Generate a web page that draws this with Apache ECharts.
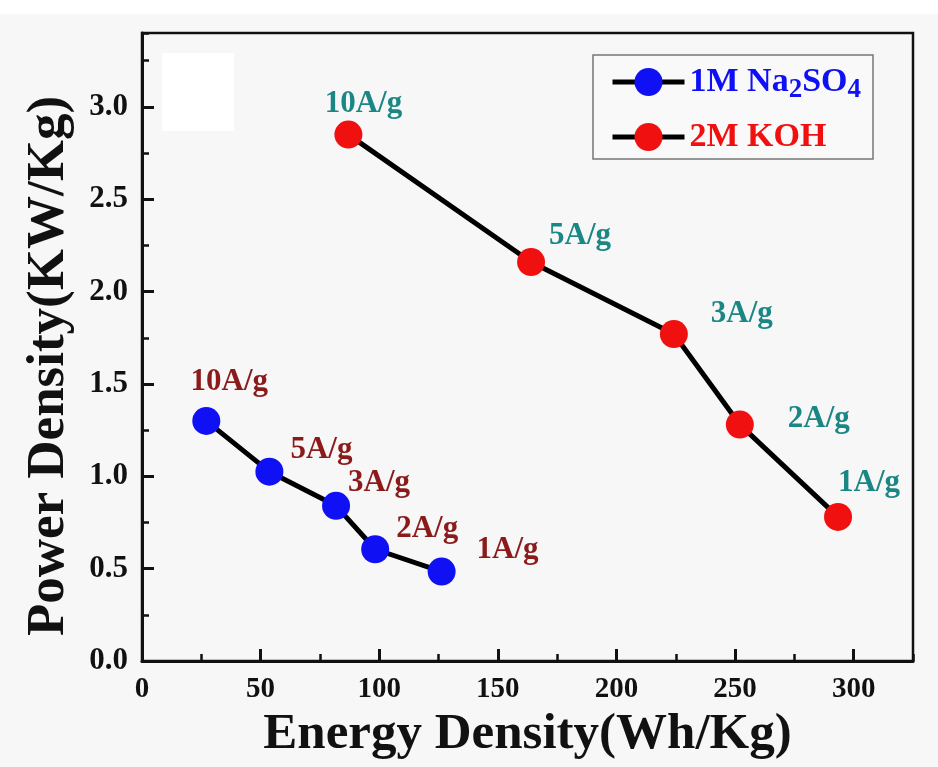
<!DOCTYPE html>
<html>
<head>
<meta charset="utf-8">
<script src="https://cdn.jsdelivr.net/npm/echarts@6/dist/echarts.min.js"></script>
<style>
  html, body { margin: 0; padding: 0; background: #f7f7f7; }
  #chart { width: 938px; height: 767px; }
</style>
</head>
<body>
<div id="chart"></div>
<script>
// Ragone data: energy density (Wh/Kg) vs power density (KW/Kg)
const rates = ['10A/g', '5A/g', '3A/g', '2A/g', '1A/g'];

const energyNa = [27.1, 53.7, 81.8, 98.3, 126.3];
const powerNa = [1.30, 1.025, 0.84, 0.605, 0.484];

const energyKOH = [87.0, 164.0, 224.2, 252.0, 293.4];
const powerKOH = [2.85, 2.16, 1.77, 1.28, 0.78];

// axis ranges / tick steps
const xRange = [0, 325];
const xMajor = 50, xMinor = 25;
const yRange = [0, 3.4];
const yMajor = 0.5, yMinor = 0.25;

// label placement relative to each marker (pixels)
const naLabelOffsets = [[23, -39], [52, -22], [43, -23], [52, -20], [66, -22]];
const kohLabelOffsets = [[15, -31], [49, -26], [68, -20], [79, -6], [31, -34]];

const FONT = '"Liberation Serif", "Times New Roman", serif';

function buildData(xs, ys, offsets) {
  return xs.map((x, i) => ({
    value: [x, ys[i]],
    rate: rates[i],
    label: { offset: offsets[i] }
  }));
}

const axisCommon = {
  type: 'value',
  axisLine: { show: true, onZero: false, lineStyle: { color: '#111', width: 3 } },
  splitLine: { show: false },
  minorTick: { show: false }
};

const chart = echarts.init(document.getElementById('chart'));
chart.setOption({
  backgroundColor: '#f7f7f7',
  animation: false,
  graphic: [
    { type: 'rect', left: 0, top: 0, shape: { width: 938, height: 14 }, style: { fill: '#ffffff' }, z: -10 },
    { type: 'rect', left: 162, top: 53, shape: { width: 72, height: 78 }, style: { fill: '#ffffff' }, z: -10 }
  ],
  grid: {
    left: 142, right: 25, top: 33, bottom: 106,
    show: true, borderColor: '#111', borderWidth: 2.5, backgroundColor: 'transparent'
  },
  legend: {
    orient: 'vertical',
    left: 593, top: 55,
    padding: [5, 12, 0, 17],
    itemGap: 11,
    itemWidth: 72, itemHeight: 35,
    borderColor: '#777', borderWidth: 1.5,
    backgroundColor: '#f9f9f9',
    lineStyle: { color: '#000', width: 5 },
    textStyle: {
      fontFamily: FONT, fontWeight: 'bold', fontSize: 34, lineHeight: 44,
      rich: {
        nb: { fontFamily: FONT, fontWeight: 'bold', fontSize: 34, lineHeight: 44, color: '#1010f5' },
        ns: { fontFamily: FONT, fontWeight: 'bold', fontSize: 27, lineHeight: 26, color: '#1010f5', verticalAlign: 'bottom' },
        kr: { fontFamily: FONT, fontWeight: 'bold', fontSize: 34, lineHeight: 44, color: '#f01010' }
      }
    },
    formatter: function (name) {
      if (name === '1M Na2SO4') return '{nb|1M Na}{ns|2}{nb|SO}{ns|4}';
      return '{kr|2M KOH}';
    },
    data: ['1M Na2SO4', '2M KOH']
  },
  xAxis: [
    Object.assign({}, axisCommon, {
      min: xRange[0], max: xRange[1], interval: xMajor,
      name: 'Energy Density(Wh/Kg)', nameLocation: 'middle', nameGap: 43,
      nameTextStyle: { fontFamily: FONT, fontWeight: 'bold', fontSize: 51, color: '#111' },
      axisTick: { show: true, inside: true, length: 12, lineStyle: { color: '#111', width: 3 } },
      axisLabel: { margin: 14, fontFamily: FONT, fontWeight: 'bold', fontSize: 29, color: '#111', showMaxLabel: false }
    }),
    Object.assign({}, axisCommon, {
      min: xRange[0], max: xRange[1], interval: xMinor, position: 'bottom',
      axisLine: { show: false },
      axisTick: { show: true, inside: true, length: 7, lineStyle: { color: '#111', width: 2.5 } },
      axisLabel: { show: false }
    })
  ],
  yAxis: [
    Object.assign({}, axisCommon, {
      min: yRange[0], max: yRange[1], interval: yMajor,
      name: 'Power Density(KW/Kg)', nameLocation: 'middle', nameGap: 66,
      nameTextStyle: { fontFamily: FONT, fontWeight: 'bold', fontSize: 53, color: '#111', padding: [0, 38, 0, 0] },
      axisTick: { show: true, inside: true, length: 12, lineStyle: { color: '#111', width: 3 } },
      axisLabel: {
        margin: 14, fontFamily: FONT, fontWeight: 'bold', fontSize: 31, color: '#111', showMaxLabel: false,
        formatter: v => v.toFixed(1)
      }
    }),
    Object.assign({}, axisCommon, {
      min: yRange[0], max: yRange[1], interval: yMinor, position: 'left',
      axisLine: { show: false },
      axisTick: { show: true, inside: true, length: 7, lineStyle: { color: '#111', width: 2.5 } },
      axisLabel: { show: false }
    })
  ],
  series: [
    {
      name: '1M Na2SO4',
      type: 'line',
      data: buildData(energyNa, powerNa, naLabelOffsets),
      symbol: 'circle', symbolSize: 28,
      lineStyle: { color: '#000', width: 5 },
      itemStyle: { color: '#1010f5' },
      label: {
        show: true, position: 'inside', align: 'center', verticalAlign: 'middle',
        fontFamily: FONT, fontWeight: 'bold', fontSize: 31, color: '#8b1a1a',
        formatter: p => p.data.rate
      },
      z: 3
    },
    {
      name: '2M KOH',
      type: 'line',
      data: buildData(energyKOH, powerKOH, kohLabelOffsets),
      symbol: 'circle', symbolSize: 28,
      lineStyle: { color: '#000', width: 5 },
      itemStyle: { color: '#f01010' },
      label: {
        show: true, position: 'inside', align: 'center', verticalAlign: 'middle',
        fontFamily: FONT, fontWeight: 'bold', fontSize: 31, color: '#1b8784',
        formatter: p => p.data.rate
      },
      z: 3
    }
  ]
});
</script>
</body>
</html>
